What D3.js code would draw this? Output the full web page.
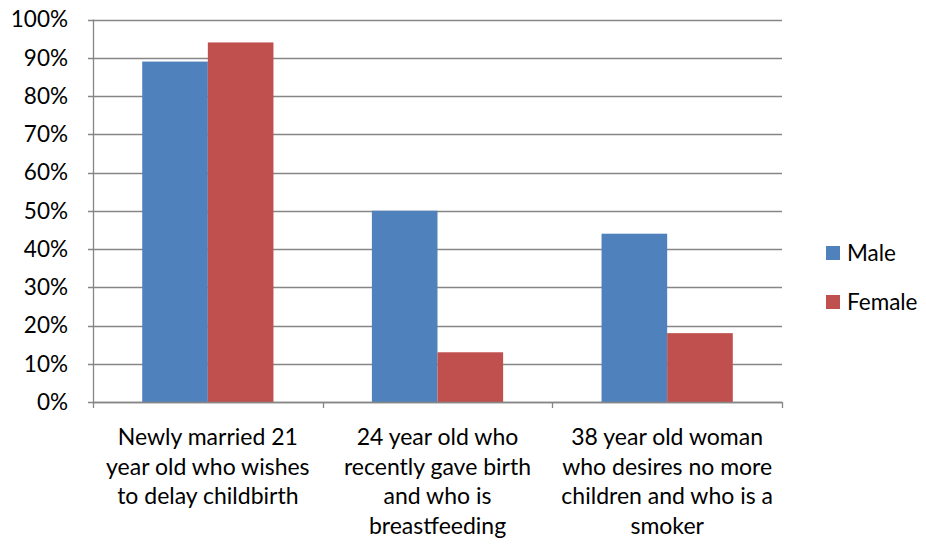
<!DOCTYPE html>
<html>
<head>
<meta charset="utf-8">
<script src="https://cdn.jsdelivr.net/npm/d3@7"></script>
<style>
  body { margin: 0; background: #fff; }
  text { font-family: Lato, "Open Sans", sans-serif; fill: #000; }
</style>
</head>
<body>
<div id="chart"></div>
<script>
// data
var categories = [
  ["Newly married 21", "year old who wishes", "to delay childbirth"],
  ["24 year old who", "recently gave birth", "and who is", "breastfeeding"],
  ["38 year old woman", "who desires no more", "children and who is a", "smoker"]
];
var seriesNames = ["Male", "Female"];
var maleValues = [0.89, 0.50, 0.44];
var femaleValues = [0.94, 0.13, 0.18];
var yTicks = [0, 0.1, 0.2, 0.3, 0.4, 0.5, 0.6, 0.7, 0.8, 0.9, 1.0];
var colors = ["#4F81BD", "#C0504D"];

var width = 926, height = 546;
var plot = {left: 93, right: 782, top: 19.5, bottom: 402};

var svg = d3.select("#chart").append("svg")
  .attr("width", width)
  .attr("height", height);

var x0 = d3.scaleBand()
  .domain(d3.range(categories.length))
  .range([plot.left, plot.right])
  .paddingInner(0)
  .paddingOuter(0);

// gap width 150% -> bar width = band / 3.5
var barW = x0.bandwidth() / 3.5;

var y = d3.scaleLinear().domain([0, 1]).range([plot.bottom, plot.top]);

// gridlines
svg.append("g")
  .selectAll("line")
  .data(yTicks)
  .join("line")
  .attr("x1", plot.left - 5)
  .attr("x2", plot.right)
  .attr("y1", d => Math.round(y(d)) + 0.5)
  .attr("y2", d => Math.round(y(d)) + 0.5)
  .attr("stroke", "#868686")
  .attr("stroke-width", 1.3);

// y labels
svg.append("g")
  .selectAll("text")
  .data(yTicks)
  .join("text")
  .attr("x", plot.left - 25)
  .attr("y", d => y(d))
  .attr("dy", "0.35em")
  .attr("text-anchor", "end")
  .style("font-size", "22.5px")
  .text(d => d3.format(".0%")(d));

// bars
var rows = categories.map((c, i) => [maleValues[i], femaleValues[i]]);
var groups = svg.append("g")
  .selectAll("g")
  .data(rows)
  .join("g")
  .attr("transform", (d, i) => "translate(" + (x0(i) + barW * 0.75) + ",0)");

groups.selectAll("rect")
  .data(d => d)
  .join("rect")
  .attr("x", (d, j) => j * barW)
  .attr("width", barW)
  .attr("y", d => y(d))
  .attr("height", d => y(0) - y(d))
  .attr("fill", (d, j) => colors[j]);

// axis lines
svg.append("line")
  .attr("x1", plot.left + 0.5).attr("x2", plot.left + 0.5)
  .attr("y1", plot.top).attr("y2", plot.bottom)
  .attr("stroke", "#868686").attr("stroke-width", 1.3);

svg.append("line")
  .attr("x1", plot.left).attr("x2", plot.right)
  .attr("y1", Math.round(plot.bottom) + 0.5).attr("y2", Math.round(plot.bottom) + 0.5)
  .attr("stroke", "#868686").attr("stroke-width", 1.3);

// x ticks at category boundaries
svg.append("g")
  .selectAll("line")
  .data(d3.range(categories.length + 1))
  .join("line")
  .attr("x1", i => Math.round(plot.left + i * x0.bandwidth()) + 0.5)
  .attr("x2", i => Math.round(plot.left + i * x0.bandwidth()) + 0.5)
  .attr("y1", plot.bottom)
  .attr("y2", plot.bottom + 6)
  .attr("stroke", "#868686").attr("stroke-width", 1.3);

// category labels
var labels = svg.append("g")
  .selectAll("text")
  .data(categories)
  .join("text")
  .attr("text-anchor", "middle")
  .style("font-size", "23px")
  .attr("transform", (d, i) => "translate(" + (x0(i) + x0.bandwidth() / 2) + ",445)");

labels.selectAll("tspan")
  .data(d => d)
  .join("tspan")
  .attr("x", 0)
  .attr("y", (d, k) => k * 29.5)
  .text(d => d);

// legend
var legend = svg.append("g")
  .selectAll("g")
  .data(seriesNames)
  .join("g")
  .attr("transform", (d, i) => "translate(826," + (246 + i * 49) + ")");

legend.append("rect")
  .attr("width", 14).attr("height", 14)
  .attr("fill", (d, i) => colors[i]);

legend.append("text")
  .attr("x", 21)
  .attr("y", 7)
  .attr("dy", "0.35em")
  .style("font-size", "22.5px")
  .text(d => d);
</script>
</body>
</html>
